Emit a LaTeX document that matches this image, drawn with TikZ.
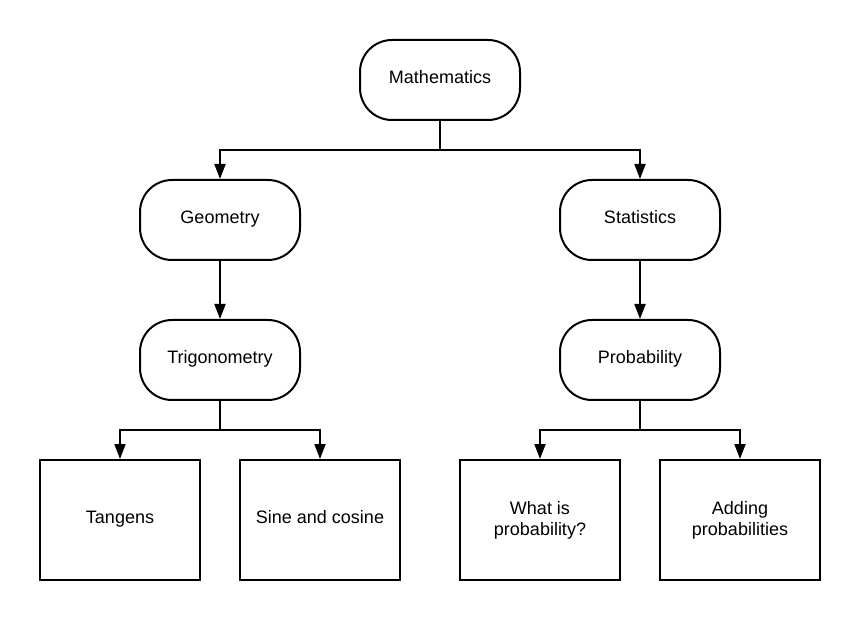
\documentclass[tikz,border=0pt]{standalone}
\usepackage{fontspec}
\setmainfont{Liberation Sans}
\usetikzlibrary{arrows.meta}
\begin{document}
\begin{tikzpicture}[x=1pt,y=-1pt,
  base/.style={draw=black,line width=2pt,minimum width=160pt,inner sep=0pt,
    font=\fontsize{18}{21}\selectfont,align=center,fill=white},
  oneline/.style={text height=12.5pt,text depth=6pt},
  pill/.style={base,oneline,minimum height=80pt,rounded corners=32pt},
  leaf/.style={base,minimum height=120pt},
  arr/.style={line width=2pt,-{Triangle[length=15pt,width=11pt]}},
  ln/.style={line width=2pt}]
\useasboundingbox (0,0) rectangle (860,620);
\node[pill] (math) at (440,80) {Mathematics};
\node[pill] (geo) at (220,220) {Geometry};
\node[pill] (stat) at (640,220) {Statistics};
\node[pill] (trig) at (220,360) {Trigonometry};
\node[pill] (prob) at (640,360) {Probability};
\node[leaf,oneline] (tan) at (120,520) {Tangens};
\node[leaf,oneline] (sin) at (320,520) {Sine and cosine};
\node[leaf] (what) at (540,520) {What is\\probability?};
\node[leaf] (add) at (740,520) {Adding\\probabilities};
\coordinate (j1) at (440,150);
\coordinate (j2) at (220,430);
\coordinate (j3) at (640,430);
\draw[ln] (math.south) -- (j1);
\draw[arr] (j1) -| (geo.north);
\draw[arr] (j1) -| (stat.north);
\draw[arr] (geo.south) -- (trig.north);
\draw[arr] (stat.south) -- (prob.north);
\draw[ln] (trig.south) -- (j2);
\draw[arr] (j2) -| (tan.north);
\draw[arr] (j2) -| (sin.north);
\draw[ln] (prob.south) -- (j3);
\draw[arr] (j3) -| (what.north);
\draw[arr] (j3) -| (add.north);
\end{tikzpicture}
\end{document}
